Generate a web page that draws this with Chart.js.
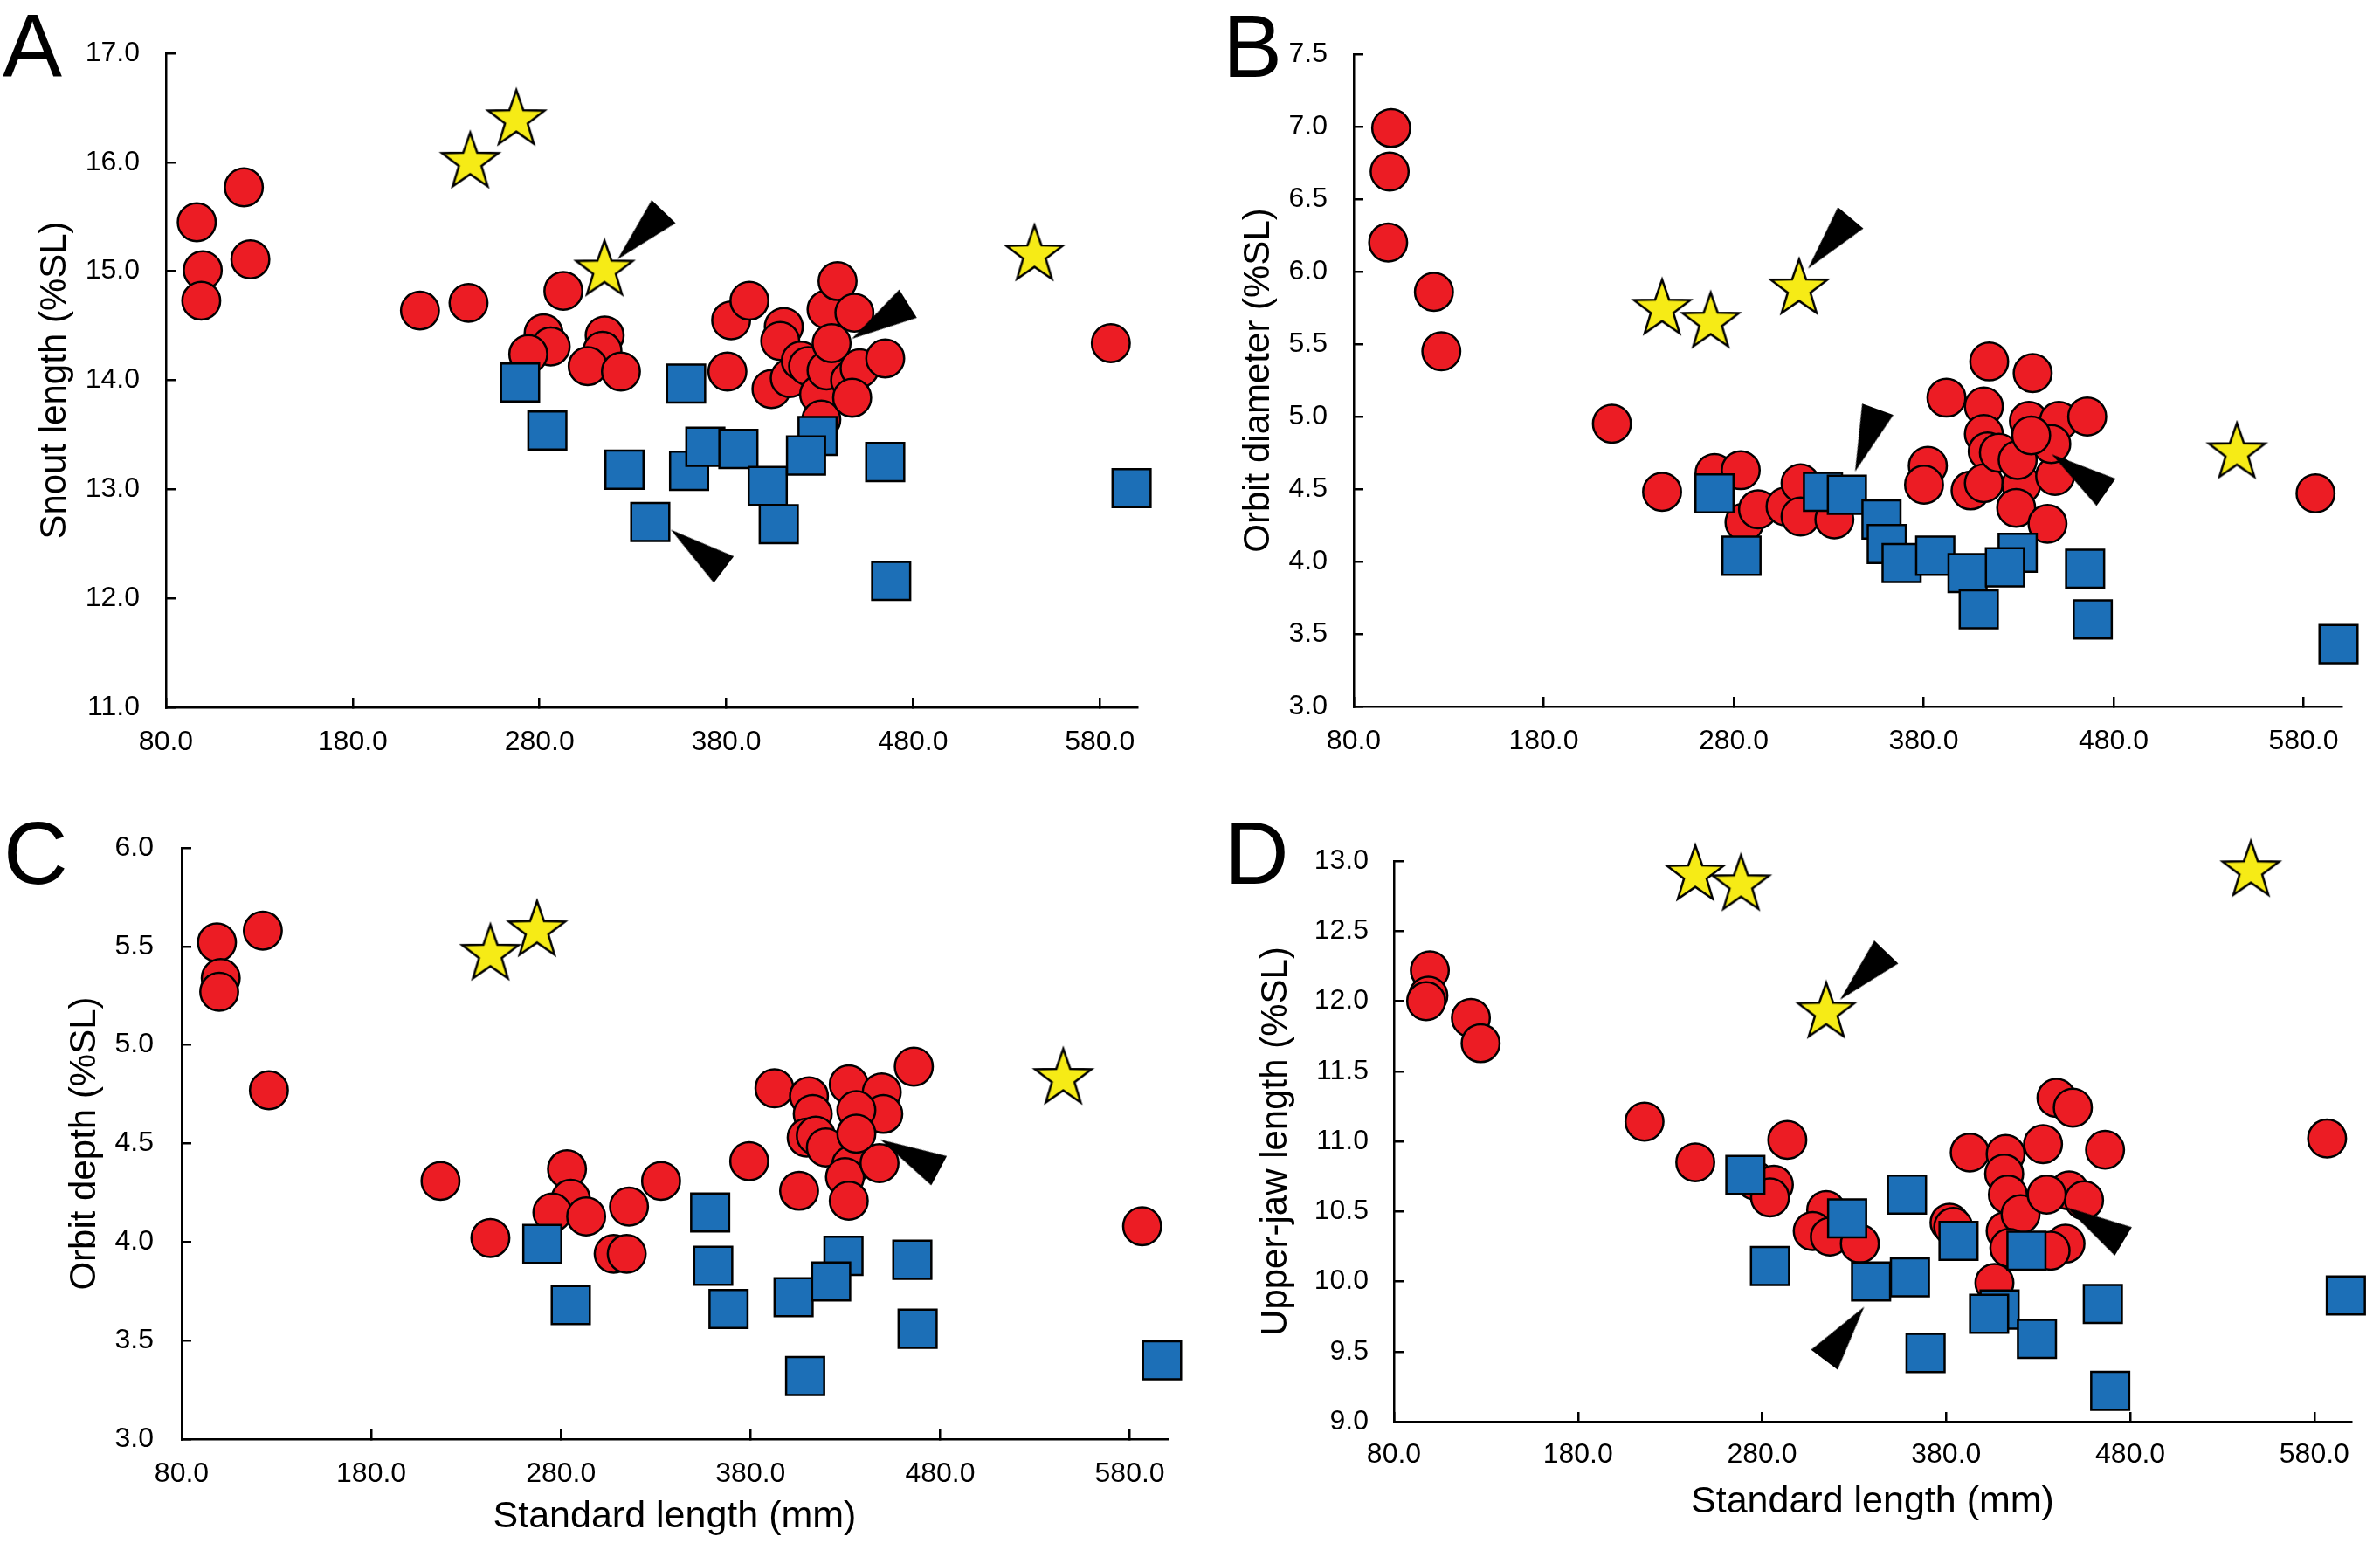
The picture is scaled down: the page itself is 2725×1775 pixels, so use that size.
<!DOCTYPE html>
<html>
<head>
<meta charset="utf-8">
<script src="https://cdn.jsdelivr.net/npm/chart.js@4.4.1/dist/chart.umd.min.js"></script>
<style>
  html, body { margin: 0; padding: 0; background: #fff; }
  #page { position: relative; width: 2725px; height: 1775px; overflow: hidden; background: #fff; }
  canvas { position: absolute; }
  .tag { position: absolute; font-family: 'Liberation Sans', Arial, sans-serif; font-size: 102px; line-height: 1; color: #000; }
</style>
</head>
<body>
<div id="page">
  <canvas id="panelA" width="1370" height="900" style="left:0;top:0"></canvas>
  <canvas id="panelB" width="1355" height="900" style="left:1370px;top:0"></canvas>
  <canvas id="panelC" width="1370" height="875" style="left:0;top:900px"></canvas>
  <canvas id="panelD" width="1355" height="875" style="left:1370px;top:900px"></canvas>
  <div class="tag" style="left:3px;top:2px">A</div>
  <div class="tag" style="left:1400px;top:2px">B</div>
  <div class="tag" style="left:4px;top:926px">C</div>
  <div class="tag" style="left:1402px;top:926px">D</div>
</div>
<script>
// ---- axes ----
const xTicks = [80, 180, 280, 380, 480, 580];
const yTicksA = [11, 12, 13, 14, 15, 16, 17];
const yTicksB = [3.0, 3.5, 4.0, 4.5, 5.0, 5.5, 6.0, 6.5, 7.0, 7.5];
const yTicksC = [3.0, 3.5, 4.0, 4.5, 5.0, 5.5, 6.0];
const yTicksD = [9.0, 9.5, 10.0, 10.5, 11.0, 11.5, 12.0, 12.5, 13.0];

// ---- A: snout length ----
const redA = [[96.5,15.45],[99.7,15.01],[98.9,14.73],[121.7,15.77],[125.2,15.11],[216,14.64],[242,14.71],[292.8,14.82],
  [282.2,14.43],[286,14.31],[274,14.24],[314.9,14.41],[313.7,14.27],[305.8,14.13],[323.6,14.08],[380.6,14.08],[382.6,14.55],
  [392.4,14.73],[410.8,14.49],[408.9,14.36],[404.2,13.92],[414,14.02],[419.9,14.18],[423.8,14.13],[429.7,13.87],[430.9,13.64],
  [433.7,14.65],[439.6,14.91],[448.6,14.62],[433.7,14.09],[446.3,14.00],[451.4,14.11],[447.4,13.84],[465.1,14.20],[436.4,14.34],
  [585.9,14.34]];
const blueA = [[269.6,13.98],[284.2,13.54],[325.5,13.18],[339.3,12.70],[358.5,13.97],[360.1,13.17],[368.8,13.39],[386.5,13.37],
  [402.2,13.03],[408.1,12.68],[428.9,13.49],[422.7,13.31],[465.1,13.25],[468.3,12.16],[597,13.01]];
const starA = [[242.9,16.0],[267.6,16.39],[314.8,15.01],[545,15.15]];
const arrowA = [[321.8,15.11],[447.2,14.38],[350.3,12.63]];
const arrowTurnA = [-46, -32, 37];

// ---- B: orbit diameter ----
const redB = [[99.7,6.99],[98.9,6.69],[98.1,6.20],[122.2,5.86],[126.1,5.45],[215.9,4.95],[242.3,4.48],[269.9,4.61],[283.7,4.63],
  [285.7,4.27],[292.8,4.36],[307.3,4.38],[315.2,4.54],[315.2,4.31],[333,4.29],[382.2,4.66],[380.2,4.53],[392,5.13],[411.7,5.07],
  [414.5,5.38],[411.7,4.88],[413.7,4.76],[404.7,4.49],[411.7,4.54],[419.6,4.75],[437.4,5.30],[435.4,4.97],[451.2,4.97],[466.1,5.00],
  [431.4,4.53],[428.7,4.37],[445.2,4.26],[449.2,4.59],[447.2,4.81],[429.5,4.70],[436.6,4.87],[586.3,4.47]];
const blueB = [[269.9,4.47],[284.1,4.04],[327,4.48],[339.6,4.46],[357.8,4.29],[360.6,4.12],[368.4,3.99],[386.1,4.04],[403.1,3.92],
  [409,3.67],[429.5,4.06],[422.8,3.96],[465,3.95],[469,3.60],[598.4,3.43]];
const starB = [[242.3,5.74],[267.9,5.65],[314.4,5.88],[544.9,4.75]];
const arrowB = [[319.1,6.02],[343.9,4.62],[447.4,4.74]];
const arrowTurnB = [-50, -70, 35];

// ---- C: orbit depth ----
const redC = [[98.6,5.52],[100.6,5.34],[99.8,5.27],[122.8,5.58],[126,4.77],[216.5,4.31],[242.8,4.02],[283.2,4.37],[285.2,4.22],
  [275.5,4.15],[293.3,4.13],[307.8,3.94],[314.7,3.94],[315.9,4.18],[332.8,4.31],[379.3,4.41],[392.6,4.78],[405.6,4.26],[410.8,4.74],
  [412.8,4.65],[409.6,4.53],[414.4,4.54],[419.7,4.48],[431.8,4.80],[449.2,4.76],[450,4.65],[435.8,4.67],[433,4.39],[429.8,4.33],
  [431.8,4.21],[448,4.40],[466.1,4.89],[435.8,4.55],[586.5,4.08]];
const blueC = [[270.2,3.99],[285.2,3.68],[358.7,4.15],[360.3,3.88],[368.4,3.66],[402.7,3.72],[408.8,3.32],[429,3.93],[422.5,3.80],
  [465.3,3.91],[468.1,3.56],[597,3.40]];
const starC = [[242.8,5.46],[267.4,5.58],[544.9,4.83]];
const arrowC = [[448.5,4.52]];
const arrowTurnC = [28];

// ---- D: upper-jaw length ----
const redD = [[99.5,12.22],[98.7,12.04],[97.5,12.00],[121.8,11.88],[127.1,11.70],[216.1,11.14],[243.7,10.85],[293.7,11.01],
  [276.2,10.72],[286.4,10.69],[284.3,10.60],[314.8,10.51],[307.5,10.36],[316.8,10.32],[333.1,10.27],[392.8,10.92],[381.8,10.42],
  [383.8,10.39],[412.3,10.91],[411.5,10.77],[413.5,10.62],[412.3,10.36],[420.4,10.48],[414.3,10.24],[406.2,9.99],[432.6,10.98],
  [439.9,11.31],[448.8,11.24],[446.8,10.65],[454.9,10.58],[444.8,10.27],[436.7,10.22],[466.3,10.94],[434.6,10.62],[586.9,11.02]];
const blueD = [[270.9,10.76],[284.3,10.11],[326.2,10.45],[339.2,10.00],[358.7,10.62],[360.3,10.03],[368.8,9.49],[386.7,10.29],
  [409,9.80],[403.3,9.77],[423.6,10.22],[429.3,9.59],[465.1,9.84],[469.1,9.22],[597.1,9.90]];
const starD = [[243.7,12.90],[268.5,12.83],[314.8,11.92],[545.5,12.93]];
const arrowD = [[322.4,12.01],[335.5,9.82],[445.3,10.53]];
const arrowTurnD = [-46, 127, 31];

const RED = '#EC1C24';
const BLUE = '#1C6FB7';
const YELLOW = '#F6EB16';
const SANS = "'Liberation Sans', Arial, sans-serif";

// narrow face for the x title if the machine has one
function hasFont(name) {
  const g = document.createElement('canvas').getContext('2d');
  const s = 'Standard length (mm) 0123';
  g.font = '40px monospace';
  const w1 = g.measureText(s).width;
  g.font = "40px '" + name + "', monospace";
  return g.measureText(s).width !== w1;
}
const narrow = hasFont('Liberation Sans Narrow');
const X_TITLE_FONT = narrow
  ? { family: "'Liberation Sans Narrow', " + SANS, size: 51, lineHeight: 1.2 }
  : { family: SANS, size: 43, lineHeight: 1.2 };
const Y_TITLE_FONT = { family: SANS, size: 42, lineHeight: 1.2 };
const TICK_FONT = { family: SANS, size: 32, lineHeight: 1.2 };

// marker images
function makeStar(r) {
  const c = document.createElement('canvas');
  const size = Math.ceil(2 * r + 8);
  c.width = size; c.height = size;
  const g = c.getContext('2d');
  const cx = size / 2, cy = size / 2, ri = r * 0.4;
  g.beginPath();
  for (let i = 0; i < 10; i++) {
    const a = -Math.PI / 2 + i * Math.PI / 5;
    const rr = i % 2 ? ri : r;
    g.lineTo(cx + rr * Math.cos(a), cy + rr * Math.sin(a));
  }
  g.closePath();
  g.fillStyle = YELLOW;
  g.fill();
  g.lineWidth = 2.5;
  g.strokeStyle = '#000';
  g.stroke();
  return c;
}

// tip sits at the image centre, body points along +x
function makeArrow(len, base) {
  const c = document.createElement('canvas');
  c.width = 2 * len + 4; c.height = base + 4;
  const g = c.getContext('2d');
  const cx = c.width / 2, cy = c.height / 2;
  g.beginPath();
  g.moveTo(cx, cy);
  g.lineTo(cx + len, cy - base / 2);
  g.lineTo(cx + len, cy + base / 2);
  g.closePath();
  g.fillStyle = '#000';
  g.fill();
  return c;
}

const STAR = makeStar(34);
const ARROW = makeArrow(76, 38);

const pts = arr => arr.map(([x, y]) => ({ x, y }));

function buildPanel(id, p) {
  const canvas = document.getElementById(id);
  const H = canvas.height;
  const xTitlePad = p.xTitleY ? H - p.xTitleY - X_TITLE_FONT.size * X_TITLE_FONT.lineHeight / 2 : 0;
  const yTitlePad = p.yTitleX - Y_TITLE_FONT.size * Y_TITLE_FONT.lineHeight / 2;

  return new Chart(canvas, {
    type: 'scatter',
    data: {
      datasets: [
        { data: pts(p.arrows), pointStyle: ARROW, pointRotation: p.turns, pointRadius: 20, clip: false, order: 0 },
        { data: pts(p.stars), pointStyle: STAR, pointRadius: 30, clip: false, order: 1 },
        { data: pts(p.blue), pointStyle: 'rect', pointRadius: 30.8, pointBackgroundColor: BLUE,
          pointBorderColor: '#000', pointBorderWidth: 2.5, clip: false, order: 2 },
        { data: pts(p.red), pointStyle: 'circle', pointRadius: 21.7, pointBackgroundColor: RED,
          pointBorderColor: '#000', pointBorderWidth: 2.5, clip: false, order: 3 }
      ]
    },
    options: {
      responsive: false,
      animation: false,
      devicePixelRatio: 1,
      events: [],
      layout: { autoPadding: false, padding: p.pad },
      plugins: { legend: { display: false }, tooltip: { enabled: false } },
      scales: {
        x: {
          type: 'linear', position: 'bottom', min: 80, max: 600,
          afterBuildTicks: s => { s.ticks = xTicks.map(v => ({ value: v })); },
          afterFit: s => { s.height = p.xH; },
          border: { display: true, color: '#000', width: 2.5 },
          grid: { drawOnChartArea: false, drawTicks: true, tickLength: -11, color: '#000', lineWidth: 2.5 },
          ticks: { color: '#000', font: TICK_FONT, padding: p.xPad, maxRotation: 0, autoSkip: false,
            callback: v => Number(v).toFixed(1) },
          title: { display: !!p.xTitleY, text: 'Standard length (mm)', color: '#000', font: X_TITLE_FONT,
            padding: { top: 0, bottom: xTitlePad } }
        },
        y: {
          type: 'linear', position: 'left', min: p.yTicks[0], max: p.yTicks[p.yTicks.length - 1],
          afterBuildTicks: s => { s.ticks = p.yTicks.map(v => ({ value: v })); },
          afterFit: s => { s.width = p.yW; },
          border: { display: true, color: '#000', width: 2.5 },
          grid: { drawOnChartArea: false, drawTicks: true, tickLength: -11, color: '#000', lineWidth: 2.5 },
          ticks: { color: '#000', font: TICK_FONT, padding: p.yPad, autoSkip: false,
            callback: v => Number(v).toFixed(1) },
          title: { display: true, text: p.yTitle, color: '#000', font: Y_TITLE_FONT,
            padding: { top: yTitlePad, bottom: 0 } }
        }
      }
    }
  });
}

buildPanel('panelA', {
  red: redA, blue: blueA, stars: starA, arrows: arrowA, turns: arrowTurnA, yTicks: yTicksA,
  yTitle: 'Snout length (%SL)', pad: { left: 0, top: 61, right: 68, bottom: 0 },
  yW: 190, xH: 90, yPad: 41, xPad: 32, yTitleX: 63
});
buildPanel('panelB', {
  red: redB, blue: blueB, stars: starB, arrows: arrowB, turns: arrowTurnB, yTicks: yTicksB,
  yTitle: 'Orbit diameter (%SL)', pad: { left: 0, top: 62, right: 44, bottom: 0 },
  yW: 180, xH: 91, yPad: 41, xPad: 32, yTitleX: 71
});
buildPanel('panelC', {
  red: redC, blue: blueC, stars: starC, arrows: arrowC, turns: arrowTurnC, yTicks: yTicksC,
  yTitle: 'Orbit depth (%SL)', pad: { left: 0, top: 71, right: 33, bottom: 0 },
  yW: 208, xH: 127, yPad: 43, xPad: 32, yTitleX: 97, xTitleY: 837
});
buildPanel('panelD', {
  red: redD, blue: blueD, stars: starD, arrows: arrowD, turns: arrowTurnD, yTicks: yTicksD,
  yTitle: 'Upper-jaw length (%SL)', pad: { left: 0, top: 86, right: 33, bottom: 0 },
  yW: 226, xH: 147, yPad: 40, xPad: 30, yTitleX: 91, xTitleY: 820
});
</script>
</body>
</html>
